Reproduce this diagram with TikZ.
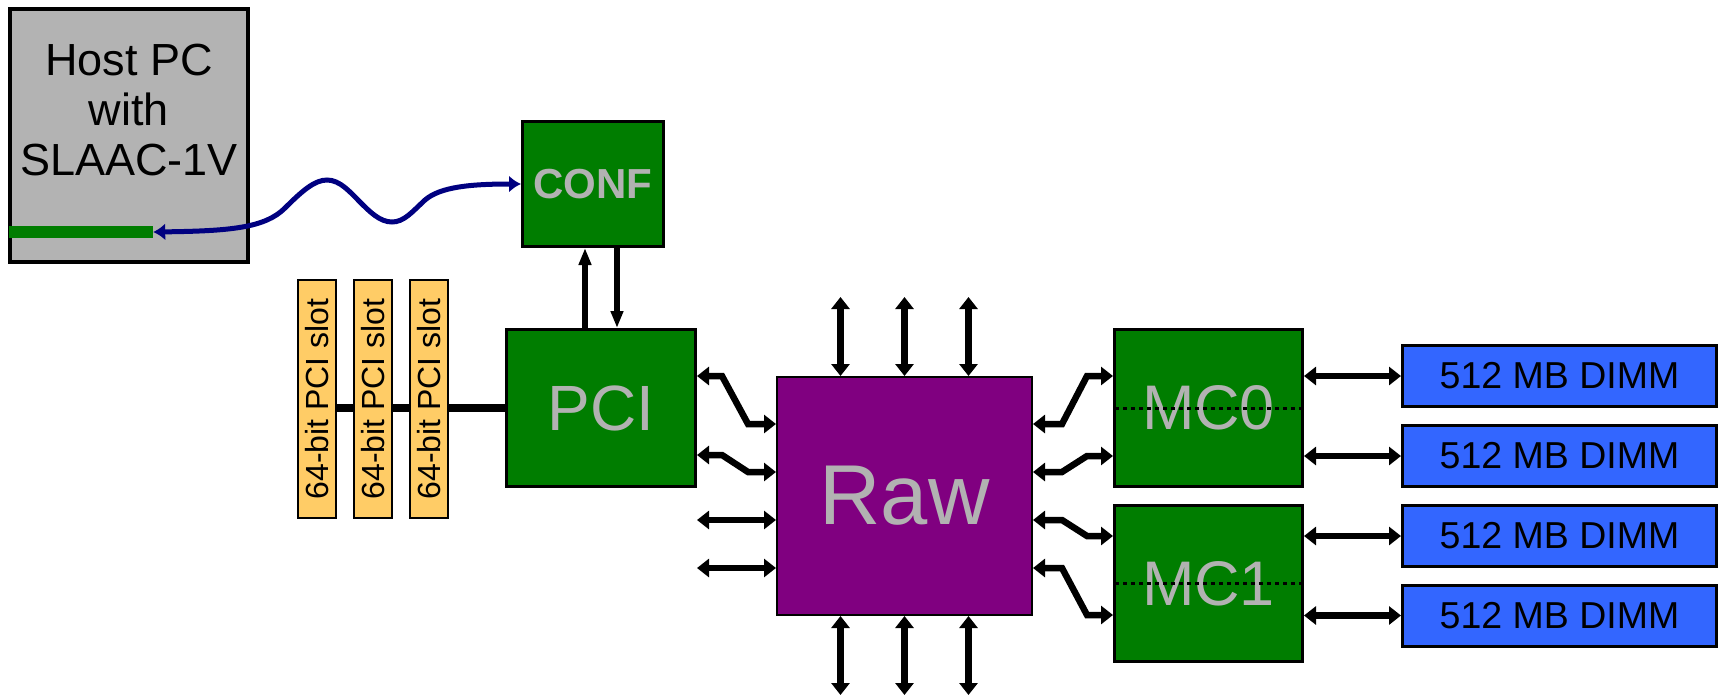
\documentclass[tikz,border=0pt]{standalone}
\usepackage{fontspec}
\setmainfont{Liberation Sans}
\usetikzlibrary{arrows.meta}
\definecolor{hostgray}{RGB}{179,179,179}
\definecolor{boxgreen}{RGB}{0,125,0}
\definecolor{txtgray}{RGB}{178,178,178}
\definecolor{rawpurple}{RGB}{128,0,128}
\definecolor{dimmblue}{RGB}{51,102,255}
\definecolor{slotyellow}{RGB}{255,204,102}
\definecolor{cablenavy}{RGB}{0,0,128}
\begin{document}
\begin{tikzpicture}[x=1pt,y=-1pt,
  greenbox/.style={draw=black,line width=3pt,fill=boxgreen,inner sep=0pt,text=txtgray},
  slotbox/.style={draw=black,line width=2pt,fill=slotyellow,inner sep=0pt,minimum width=38,minimum height=238,
     label={[rotate=90,font=\fontsize{32}{32}\selectfont]center:64-bit PCI slot}},
  dimmbox/.style={draw=black,line width=3pt,fill=dimmblue,inner sep=0pt,minimum width=314,minimum height=61,
     font=\fontsize{37.5}{37.5}\selectfont},
  dbl/.style={line width=6.5pt,{Triangle[length=12pt,width=18pt]}-{Triangle[length=12pt,width=18pt]}},
  vert/.style={line width=6pt,-{Triangle[length=17pt,width=12pt]}},
  bus/.style={line width=8pt},
  dotline/.style={line width=3pt,dash pattern=on 4pt off 4pt},
  cable/.style={draw=cablenavy,line width=5pt,{Latex[length=12pt,width=17pt]}-{Latex[length=12pt,width=17pt]}}
]
\useasboundingbox (0,0) rectangle (1721,697);

% Host PC
\node[draw=black,line width=4pt,fill=hostgray,minimum width=238,minimum height=253,inner sep=0pt] (host) at (129,135.5) {};
\node[font=\fontsize{45}{50}\selectfont,align=center] (hosttxt) at (129,110) {Host PC\\with\\SLAAC-1V};
\node[fill=boxgreen,minimum width=144,minimum height=12,inner sep=0pt] (bar) at (81,232) {};

% main boxes
\node[greenbox,minimum width=141,minimum height=125,font=\bfseries\fontsize{42}{42}\selectfont] (conf) at (593,184) {CONF};
\node[greenbox,minimum width=189,minimum height=157,font=\fontsize{64}{64}\selectfont] (pci) at (601,408) {PCI};
\node[draw=black,line width=2pt,fill=rawpurple,inner sep=0pt,minimum width=255,minimum height=238,text=txtgray,
      font=\fontsize{85}{85}\selectfont] (raw) at (904.5,496) {Raw};
\node[greenbox,minimum width=188,minimum height=157,font=\fontsize{63}{63}\selectfont] (mc0) at (1208.5,408) {MC0};
\node[greenbox,minimum width=188,minimum height=156,font=\fontsize{63}{63}\selectfont] (mc1) at (1208.5,583.5) {MC1};

% DIMMs
\node[dimmbox] (d1) at (1559.5,376) {512 MB DIMM};
\node[dimmbox] (d2) at (1559.5,456) {512 MB DIMM};
\node[dimmbox] (d3) at (1559.5,536) {512 MB DIMM};
\node[dimmbox] (d4) at (1559.5,615.5) {512 MB DIMM};

% PCI slots and bus
\draw[bus] (317,408) -- (pci.west);
\node[slotbox] (s1) at (317,399) {};
\node[slotbox] (s2) at (373,399) {};
\node[slotbox] (s3) at (429,399) {};

% cable
\draw[cable] (bar.east) .. controls (230,231) and (265,228) .. (285,208)
  .. controls (303,190) and (315,180) .. (327,180)
  .. controls (340,180) and (350,192) .. (360,202)
  .. controls (370,212) and (380,222) .. (392,222)
  .. controls (404,222) and (412,212) .. (425,200)
  .. controls (440,187) and (470,184) .. (conf.west);

% CONF <-> PCI
\draw[vert] ([xshift=-16pt]pci.north) -- ([xshift=-16pt]pci.north |- conf.south);
\draw[vert] ([xshift=16pt]pci.north |- conf.south) -- ([xshift=16pt]pci.north);

% Raw top / bottom
\coordinate (t1) at ([xshift=-64pt,yshift=79pt]raw.north);
\coordinate (t2) at ([yshift=79pt]raw.north);
\coordinate (t3) at ([xshift=64pt,yshift=79pt]raw.north);
\coordinate (b1) at ([xshift=-64pt,yshift=-79pt]raw.south);
\coordinate (b2) at ([yshift=-79pt]raw.south);
\coordinate (b3) at ([xshift=64pt,yshift=-79pt]raw.south);
\draw[dbl] ([xshift=-64pt]raw.north) -- (t1);
\draw[dbl] (raw.north) -- (t2);
\draw[dbl] ([xshift=64pt]raw.north) -- (t3);
\draw[dbl] ([xshift=-64pt]raw.south) -- (b1);
\draw[dbl] (raw.south) -- (b2);
\draw[dbl] ([xshift=64pt]raw.south) -- (b3);

% Raw left
\draw[dbl] ([yshift=32pt]pci.east) -- ++(25,0) -- ([xshift=-28pt,yshift=72pt]raw.west) -- ([yshift=72pt]raw.west);
\draw[dbl] ([yshift=-47pt]pci.east) -- ++(25,0) -- ([xshift=-28pt,yshift=24pt]raw.west) -- ([yshift=24pt]raw.west);
\coordinate (l3) at ([xshift=-79pt,yshift=-24pt]raw.west);
\coordinate (l4) at ([xshift=-79pt,yshift=-72pt]raw.west);
\draw[dbl] (l3) -- ([yshift=-24pt]raw.west);
\draw[dbl] (l4) -- ([yshift=-72pt]raw.west);

% Raw right
\draw[dbl] ([yshift=72pt]raw.east) -- ++(29,0) -- ([xshift=-26pt,yshift=32pt]mc0.west) -- ([yshift=32pt]mc0.west);
\draw[dbl] ([yshift=24pt]raw.east) -- ++(29,0) -- ([xshift=-26pt,yshift=-48pt]mc0.west) -- ([yshift=-48pt]mc0.west);
\draw[dbl] ([yshift=-24pt]raw.east) -- ++(29,0) -- ([xshift=-26pt,yshift=47.5pt]mc1.west) -- ([yshift=47.5pt]mc1.west);
\draw[dbl] ([yshift=-72pt]raw.east) -- ++(29,0) -- ([xshift=-26pt,yshift=-31.5pt]mc1.west) -- ([yshift=-31.5pt]mc1.west);

% MC <-> DIMM
\draw[dbl] (d1.west -| mc0.east) -- (d1.west);
\draw[dbl] (d2.west -| mc0.east) -- (d2.west);
\draw[dbl] (d3.west -| mc1.east) -- (d3.west);
\draw[dbl] (d4.west -| mc1.east) -- (d4.west);

% dotted split lines
\draw[dotline] ([xshift=2pt]mc0.west) -- ([xshift=-2pt]mc0.east);
\draw[dotline] ([xshift=2pt]mc1.west) -- ([xshift=-2pt]mc1.east);
\end{tikzpicture}
\end{document}
